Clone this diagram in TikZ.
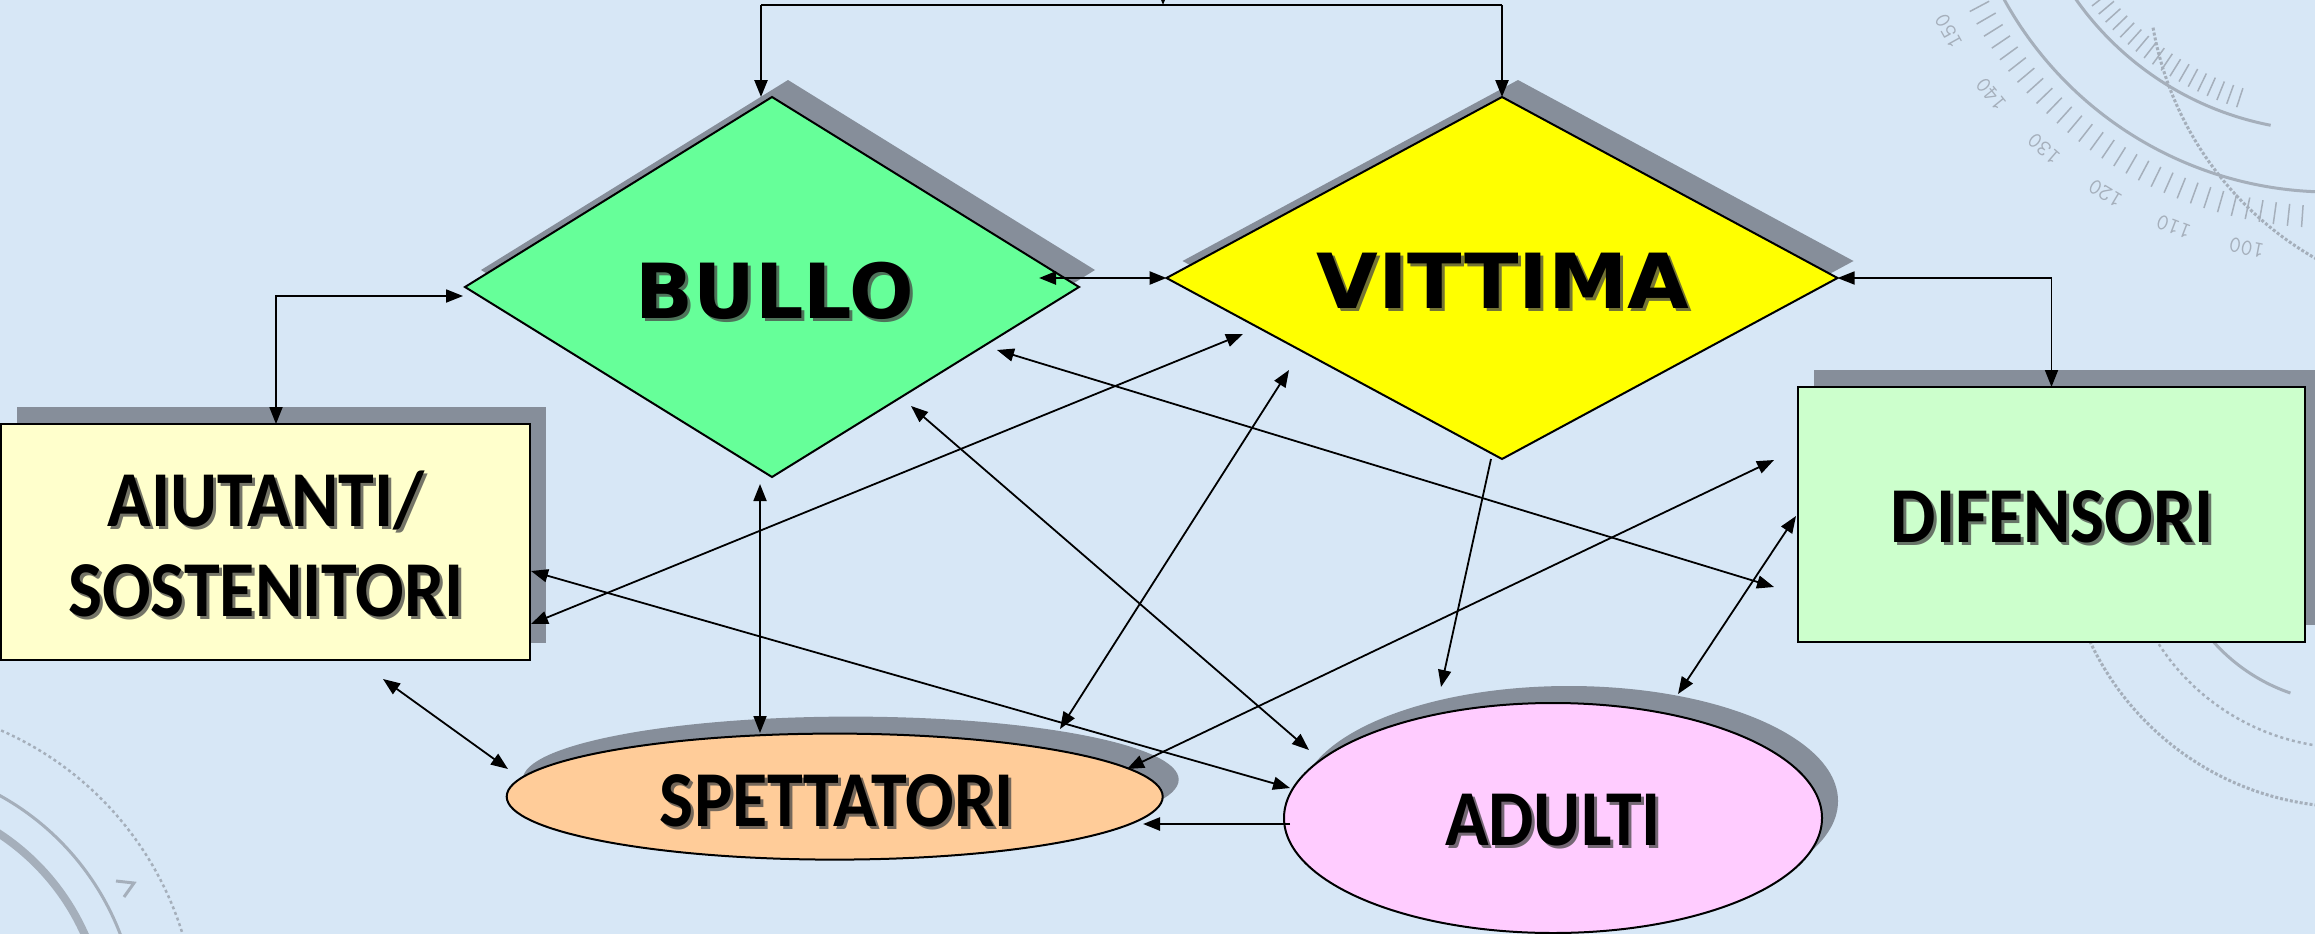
\documentclass[tikz,border=0pt]{standalone}
\usepackage{fontspec}
\usepackage{graphicx}
\newfontfamily\carl{Carlito}
\newfontfamily\verd{DejaVu Sans}
\usetikzlibrary{shapes.geometric,shadows,arrows.meta,calc}

\definecolor{bg}{RGB}{215,231,246}
\definecolor{shd}{RGB}{134,142,154}
\definecolor{bullog}{RGB}{102,255,153}
\definecolor{vityel}{RGB}{255,255,0}
\definecolor{aiuty}{RGB}{255,255,204}
\definecolor{difg}{RGB}{204,255,204}
\definecolor{spet}{RGB}{255,204,153}
\definecolor{adu}{RGB}{255,204,255}
\definecolor{deco}{RGB}{165,175,187}
\definecolor{txtsh}{RGB}{70,70,70}

\newcommand\fbig{\verd\bfseries\fontsize{76}{80}\selectfont}
\newcommand\fmid{\carl\bfseries\fontsize{72}{82}\selectfont}
\newcommand\shlab[4]{%
  \node[labsh] (#1-sh) at ($#2+(3,3)$) {#3{#4}};
  \node[lab] (#1) at #2 {#3{#4}};}

\begin{document}
\begin{tikzpicture}[x=1pt,y=-1pt,
  shapebase/.style={draw=black, line width=2pt, inner sep=0pt, outer sep=0pt,
    drop shadow={shadow xshift=16pt, shadow yshift=17pt, fill=shd, opacity=1}},
  dia/.style={shapebase, diamond},
  box/.style={shapebase, rectangle},
  ell/.style={shapebase, ellipse},
  lab/.style={inner sep=0pt, anchor=base, text=black},
  labsh/.style={lab, text=txtsh, opacity=0.75},
  conn/.style={line width=1.8pt, {Triangle[length=17pt,width=13pt]}-{Triangle[length=17pt,width=13pt]}},
  oneway/.style={line width=1.8pt, -{Triangle[length=17pt,width=13pt]}},
  decoline/.style={draw=deco, line width=3pt},
  decotick/.style={draw=deco, line width=1.5pt},
  deconum/.style={text=deco, font=\ttfamily\fontsize{23}{23}\selectfont, inner sep=0pt},
]
\useasboundingbox (0,0) rectangle (2315,934);
\fill[bg] (0,0) rectangle (2315,934);
\clip (0,0) rectangle (2315,934);

% background decorations
\coordinate (dc1) at (2330,-180);
\draw[decoline] ($(dc1)+(165:372)$) arc[start angle=165, end angle=70, radius=372];
\draw[decoline] ($(dc1)+(165:311)$) arc[start angle=165, end angle=101, radius=311];
\foreach \a in {86,88,...,164} \draw[decotick] ($(dc1)+(\a:386)$) -- ($(dc1)+(\a:408)$);
\foreach \a in {108,110,...,142} \draw[decotick] ($(dc1)+(\a:282)$) -- ($(dc1)+(\a:302)$);
\foreach \n/\a in {100/101,110/111,120/121,130/131,140/141,150/151}
  \node[deconum, rotate=270-\a] (deco\n) at ($(dc1)+(\a:436)$) {\n};
\coordinate (dc2) at (2480,-30);
\draw[draw=deco, line width=3pt, dotted] ($(dc2)+(170:332)$) arc[start angle=170, end angle=105, radius=332];
\coordinate (dc3) at (-130,1030);
\draw[draw=deco, line width=8pt] ($(dc3)+(-100:235)$) arc[start angle=-100, end angle=10, radius=235];
\draw[decoline] ($(dc3)+(-100:268)$) arc[start angle=-100, end angle=10, radius=268];
\draw[draw=deco, line width=2.5pt, dashed] ($(dc3)+(-100:327)$) arc[start angle=-100, end angle=10, radius=327];
\draw[draw=deco, line width=3pt] (116,881) -- (134,883) -- (124,897);
\coordinate (dc4) at (2350,520);
\draw[decoline] ($(dc4)+(109:183)$) arc[start angle=109, end angle=200, radius=183];
\draw[draw=deco, line width=2.5pt, dashed] ($(dc4)+(150:228)$) arc[start angle=150, end angle=60, radius=228];
\draw[draw=deco, line width=3pt, dotted] ($(dc4)+(160:287)$) arc[start angle=160, end angle=60, radius=287];

% shapes
\node[dia, fill=bullog, minimum width=614, minimum height=380] (bullo) at (772,287) {};
\node[dia, fill=vityel, minimum width=671, minimum height=362] (vittima) at (1502,278) {};
\node[box, fill=aiuty, minimum width=529, minimum height=236] (aiut) at (265.5,542) {};
\node[box, fill=difg, minimum width=507, minimum height=255] (dif) at (2051.5,514.5) {};
\node[ell, fill=spet, minimum width=656, minimum height=126] (spett) at (834.7,796.6) {};
\node[ell, fill=adu, minimum width=538, minimum height=230] (adulti) at (1553,818) {};

% labels
\shlab{tbullo}{(775,318)}{\fbig}{BULLO}
\shlab{tvit}{(1503,308)}{\fbig\scalebox{1.05}[1]}{VITTIMA}
\shlab{tdif}{(2052,542)}{\fmid\scalebox{1}[1.1]}{DIFENSORI}
\shlab{tadu}{(1553,845)}{\fmid\scalebox{1}[1.1]}{ADULTI}
\shlab{tspet}{(837,826)}{\fmid\scalebox{1}[1.1]}{SPETTATORI}
\shlab{taiu}{(266,526)}{\fmid\scalebox{1}[1.1]}{\begin{tabular}[t]{@{}c@{}}AIUTANTI/\\SOSTENITORI\end{tabular}}

% connector end points
\coordinate (tl) at (761,5);
\coordinate (tr) at (1502,5);
\coordinate (ttop) at (1163,-40);
\coordinate (tmid) at (1163,5);
\coordinate (c2) at (1039,278);
\coordinate (c3a) at (276,424);
\coordinate (c3b) at (463,296);
\coordinate (c5a) at (760,484);
\coordinate (c5b) at (760,733);
\coordinate (c6a) at (383,679);
\coordinate (c6b) at (508,769);
\coordinate (c7a) at (531,624);
\coordinate (c7b) at (1243,334);
\coordinate (c8a) at (531,571);
\coordinate (c8b) at (1290,788);
\coordinate (c9a) at (997,350);
\coordinate (c9b) at (1774,587);
\coordinate (c10a) at (911,406);
\coordinate (c10b) at (1309,750);
\coordinate (c11a) at (1289,370);
\coordinate (c11b) at (1060,729);
\coordinate (c12a) at (1491,459);
\coordinate (c12b) at (1441,687);
\coordinate (c13a) at (1127,769);
\coordinate (c13b) at (1774,460);
\coordinate (c14a) at (1796,516);
\coordinate (c14b) at (1678,694);
\coordinate (c15a) at (1290,824);
\coordinate (c15b) at (1143,824);

% connectors
\draw[line width=2.5pt] (tl) -- (tr);
\draw[oneway, line width=2.5pt] (tl) -- (tl |- bullo.north);
\draw[oneway, line width=2.5pt] (tr) -- (vittima.north);
\draw[oneway] (ttop) -- (tmid);
\draw[conn, line width=2.5pt] (vittima.west) -- (c2);
\draw[conn] (c3a) |- (c3b);
\draw[conn] (vittima.east) -| (dif.north);
\draw[conn] (c5a) -- (c5b);
\draw[conn] (c6a) -- (c6b);
\draw[conn] (c7a) -- (c7b);
\draw[conn] (c8a) -- (c8b);
\draw[conn] (c9a) -- (c9b);
\draw[conn] (c10a) -- (c10b);
\draw[conn] (c11a) -- (c11b);
\draw[oneway] (c12a) -- (c12b);
\draw[conn] (c13a) -- (c13b);
\draw[conn] (c14a) -- (c14b);
\draw[oneway, line width=2.5pt] (c15a) -- (c15b);
\end{tikzpicture}
\end{document}
